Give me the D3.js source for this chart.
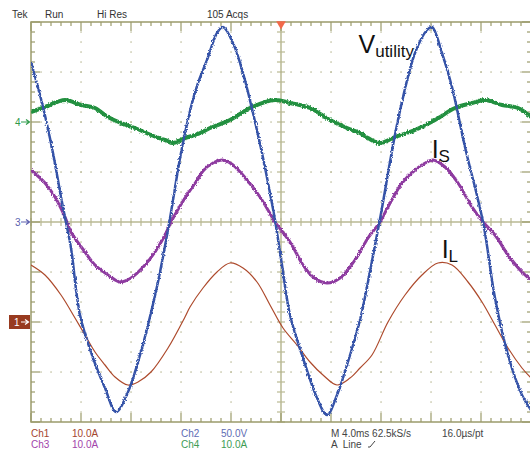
<!DOCTYPE html>
<html>
<head>
<meta charset="utf-8">
<script src="https://cdn.jsdelivr.net/npm/d3@7"></script>
<style>
body { margin: 0; background: #fff; }
svg { display: block; font-family: "Liberation Sans", Arial, sans-serif; }
</style>
</head>
<body>
<svg width="530" height="457"></svg>
<script>
// time axis in ms relative to trigger point (screen centre), 4 ms/div
var ch2Time = [-20, -19.04, -18.24, -17.6, -17.24, -16.8, -16.08, -15.04, -14.08, -13.2, -12.24, -11.44, -10.64, -9.84, -8.96, -8.0, -7.2, -6.64, -5.92, -5.12, -4.64, -3.84, -3.04, -2.24, -1.52, -0.88, -0.48, 0.08, 0.72, 1.76, 2.88, 3.68, 4.48, 5.28, 6.32, 6.96, 7.92, 9.36, 10.72, 11.68, 12.08, 12.88, 13.68, 14.72, 16.16, 17.12, 18.16, 19.28, 20];
var ch2Volts = [160, 115, 69, 25, 2, -26, -93, -136, -166, -190, -170, -140, -103, -60, -2, 69, 115, 139, 162, 189, 195, 179, 149, 109, 69, 29, 2, -43, -93, -136, -176, -193, -173, -143, -98, -60, 3, 102, 169, 192, 195, 169, 135, 75, 0, -76, -133, -173, -188];

var ch4Time = [-20, -18.88, -17.28, -16.0, -14.88, -13.84, -12.8, -11.68, -10.4, -9.28, -8.64, -7.68, -6.64, -5.68, -4.08, -2.48, -0.48, 0.72, 2.32, 3.92, 5.28, 6.32, 6.96, 7.92, 9.12, 10.72, 12.32, 13.92, 15.28, 16.32, 17.68, 18.96, 20];
var ch4Amps = [2.0, 3.0, 4.4, 3.4, 2.8, 1.0, -0.2, -1.2, -2.6, -3.6, -4.2, -3.2, -2.4, -1.2, 0.4, 2.8, 4.4, 3.8, 2.8, 0.4, -1.2, -2.2, -3.2, -4.2, -3.0, -1.6, 0.4, 2.8, 3.8, 4.4, 3.4, 2.8, 1.0];

var ch3Time = [-20, -18.88, -18.08, -17.28, -16.8, -15.68, -14.88, -13.84, -12.88, -12.0, -10.88, -10.08, -9.28, -8.8, -7.68, -6.64, -6.24, -5.44, -4.64, -3.84, -2.72, -1.68, -0.72, -0.48, 0.72, 1.76, 2.56, 3.68, 4.72, 5.92, 6.96, 7.92, 8.56, 9.68, 10.72, 11.68, 12.16, 13.12, 14.16, 15.28, 16.16, 17.12, 18.16, 19.28, 20];
var ch3Amps = [10.4, 7.8, 5.0, 1.0, -2.0, -6.0, -8.6, -10.6, -12.0, -11.2, -8.6, -6.0, -2.6, 0, 4.8, 8.6, 10.2, 11.8, 12.4, 11.4, 8.4, 5.0, 1.0, 0, -4.0, -8.6, -11.0, -12.2, -11.2, -7.6, -3.2, 0, 3.0, 7.8, 10.4, 12.0, 12.4, 11.0, 7.8, 3.0, 0, -2.6, -6.6, -10.0, -11.6];

var ch1Time = [-20, -18.88, -17.6, -16.48, -15.68, -14.88, -14.08, -13.28, -12.24, -11.44, -10.4, -9.04, -7.68, -7.28, -6.24, -5.12, -4.08, -3.04, -1.92, -0.88, 0.16, 1.28, 2.32, 3.36, 4.48, 5.52, 6.32, 7.28, 8.56, 9.92, 11.28, 12.56, 13.68, 14.96, 16.08, 17.12, 18.16, 19.28, 20];
var ch1Amps = [11.4, 9.4, 5.4, 0.8, -2.6, -6.0, -8.6, -11.0, -12.6, -12.0, -10.0, -5.2, 1.0, 3.0, 6.8, 10.0, 11.8, 10.8, 8.0, 3.4, -1.2, -4.6, -8.0, -10.6, -12.6, -11.2, -9.2, -6.6, 0, 5.4, 9.4, 11.8, 11.4, 8.0, 4.0, -0.6, -5.2, -9.2, -11.2];

// channel settings: units per division and ground marker position (divisions)
var chNames = ["Ch1", "Ch2", "Ch3", "Ch4"];
var chScale = [10, 50, 10, 10];
var chOffset = [-2, 0, 0, 2];
var chScaleText = ["10.0A", "50.0V", "10.0A", "10.0A"];
var chColor = ["#ad4a2c", "#3553a8", "#8e3aa0", "#23903f"];
var chTextColor = ["#a4452e", "#5e6cb4", "#a244aa", "#3d9c54"];

var headerText = ["Tek", "Run", "Hi Res", "105 Acqs"];
var footerText = ["M 4.0ms 62.5kS/s", "16.0\u00b5s/pt", "A  Line"];

var traceLabels = [
  {main: "V", sub: "utility", t: 6.2, div: 3.38},
  {main: "I", sub: "S", t: 12.05, div: 1.28},
  {main: "I", sub: "L", t: 12.85, div: -0.72}
];

var svg = d3.select("svg");

var x = d3.scaleLinear().domain([-20, 20]).range([31, 531]);
var y = d3.scaleLinear().domain([-4, 4]).range([422, 22]);

var gridColor = "#9b9b6b";
var dotColor = "#b3b38d";
var g = svg.append("g");

// fuzzy look of the high-res acquisition
var defs = svg.append("defs");
var fz = defs.append("filter").attr("id", "fuzz")
  .attr("x", "-5%").attr("y", "-5%").attr("width", "110%").attr("height", "110%");
fz.append("feTurbulence").attr("type", "fractalNoise").attr("baseFrequency", "1.2 0.6")
  .attr("numOctaves", 1).attr("seed", 3).attr("result", "n");
fz.append("feDisplacementMap").attr("in", "SourceGraphic").attr("in2", "n")
  .attr("scale", 3.5).attr("xChannelSelector", "R").attr("yChannelSelector", "G");

// dotted graticule
var majorT = d3.range(-16, 17, 4).filter(function(d) { return d !== 0; });
var majorD = d3.range(-3, 4, 1).filter(function(d) { return d !== 0; });
var minorT = d3.range(-20, 20.01, 0.8);
var minorD = d3.range(-4, 4.01, 0.2);

majorT.forEach(function(t) {
  g.selectAll(null).data(minorD.slice(1, -1)).enter().append("rect")
    .attr("x", x(t) - 0.6).attr("y", function(d) { return y(d) - 0.6; })
    .attr("width", 1.3).attr("height", 1.3).attr("fill", dotColor);
});
majorD.forEach(function(dv) {
  g.selectAll(null).data(minorT.slice(1, -1)).enter().append("rect")
    .attr("x", function(d) { return x(d) - 0.6; }).attr("y", y(dv) - 0.6)
    .attr("width", 1.3).attr("height", 1.3).attr("fill", dotColor);
});

// centre cross with ticks
g.append("line").attr("x1", x(0)).attr("x2", x(0)).attr("y1", y(4)).attr("y2", y(-4))
  .attr("stroke", "#b9b993").attr("stroke-width", 1.5);
g.append("line").attr("x1", x(-20)).attr("x2", x(20)).attr("y1", y(0)).attr("y2", y(0))
  .attr("stroke", "#b9b993").attr("stroke-width", 1.5);
g.selectAll(null).data(minorD).enter().append("line")
  .attr("x1", x(0) - 4).attr("x2", x(0) + 4)
  .attr("y1", function(d) { return y(d); }).attr("y2", function(d) { return y(d); })
  .attr("stroke", "#b9b993").attr("stroke-width", 1.2);
g.selectAll(null).data(minorT).enter().append("line")
  .attr("y1", y(0) - 4).attr("y2", y(0) + 4)
  .attr("x1", function(d) { return x(d); }).attr("x2", function(d) { return x(d); })
  .attr("stroke", "#b9b993").attr("stroke-width", 1.2);

// border ticks
function isMajorT(d) { return Math.abs(d / 4 - Math.round(d / 4)) < 1e-6; }
function isMajorD(d) { return Math.abs(d - Math.round(d)) < 1e-6; }
g.selectAll(null).data(minorT).enter().append("line")
  .attr("x1", function(d) { return x(d); }).attr("x2", function(d) { return x(d); })
  .attr("y1", y(4)).attr("y2", function(d) { return y(4) + (isMajorT(d) ? 9 : 4); })
  .attr("stroke", gridColor).attr("stroke-width", 1.2);
g.selectAll(null).data(minorT).enter().append("line")
  .attr("x1", function(d) { return x(d); }).attr("x2", function(d) { return x(d); })
  .attr("y1", y(-4)).attr("y2", function(d) { return y(-4) - (isMajorT(d) ? 9 : 4); })
  .attr("stroke", gridColor).attr("stroke-width", 1.2);
g.selectAll(null).data(minorD).enter().append("line")
  .attr("y1", function(d) { return y(d); }).attr("y2", function(d) { return y(d); })
  .attr("x1", x(-20)).attr("x2", function(d) { return x(-20) + (isMajorD(d) ? 9 : 4); })
  .attr("stroke", gridColor).attr("stroke-width", 1.2);
g.selectAll(null).data(minorD).enter().append("line")
  .attr("y1", function(d) { return y(d); }).attr("y2", function(d) { return y(d); })
  .attr("x1", x(20)).attr("x2", function(d) { return x(20) - (isMajorD(d) ? 9 : 4); })
  .attr("stroke", gridColor).attr("stroke-width", 1.2);

g.append("rect").attr("x", x(-20)).attr("y", y(4))
  .attr("width", x(20) - x(-20)).attr("height", y(-4) - y(4))
  .attr("fill", "none").attr("stroke", gridColor).attr("stroke-width", 1.5);

// traces
svg.append("clipPath").attr("id", "plotClip").append("rect")
  .attr("x", x(-20)).attr("y", y(4)).attr("width", x(20) - x(-20)).attr("height", y(-4) - y(4));
var traces = svg.append("g").attr("clip-path", "url(#plotClip)");

function drawTrace(times, vals, ch, width, fuzzy) {
  var pts = times.map(function(t, i) { return [t, vals[i]]; });
  var line = d3.line()
    .x(function(d) { return x(d[0]); })
    .y(function(d) { return y(chOffset[ch] + d[1] / chScale[ch]); })
    .curve(d3.curveCatmullRom.alpha(0.5));
  var p = traces.append("path").attr("d", line(pts)).attr("fill", "none")
    .attr("stroke", chColor[ch]).attr("stroke-width", width).attr("stroke-linejoin", "round");
  if (fuzzy) p.attr("filter", "url(#fuzz)");
}
drawTrace(ch1Time, ch1Amps, 0, 1.2, false);
drawTrace(ch4Time, ch4Amps, 3, 4.0, true);
drawTrace(ch3Time, ch3Amps, 2, 3.0, true);
drawTrace(ch2Time, ch2Volts, 1, 2.5, true);

// trigger position marker
svg.append("path")
  .attr("d", d3.symbol().type(d3.symbolTriangle).size(40)())
  .attr("transform", "translate(" + x(0) + "," + (y(4) + 2) + ") rotate(180)")
  .attr("fill", "#f2694a");

// channel ground markers on the left
var markers = [{ch: 3, label: "4"}, {ch: 1, label: "3"}];
markers.forEach(function(m) {
  var yy = y(chOffset[m.ch]);
  svg.append("text").attr("x", 15).attr("y", yy + 4).attr("font-size", 10)
    .attr("fill", m.ch === 3 ? "#2f9a4a" : "#5b5fae").text(m.label);
  svg.append("path").attr("d", "M21," + yy + "H29M26," + (yy - 2.5) + "L29.5," + yy + "L26," + (yy + 2.5))
    .attr("stroke", m.ch === 3 ? "#2f9a4a" : "#5b5fae").attr("stroke-width", 1.2).attr("fill", "none");
});
var y1m = y(chOffset[0]);
svg.append("rect").attr("x", 9).attr("y", y1m - 7).attr("width", 21).attr("height", 14).attr("fill", "#983a1f");
svg.append("text").attr("x", 14).attr("y", y1m + 4).attr("font-size", 10).attr("fill", "#fff").text("1");
svg.append("path").attr("d", "M21," + y1m + "H28M25," + (y1m - 2.5) + "L28.5," + y1m + "L25," + (y1m + 2.5))
  .attr("stroke", "#fff").attr("stroke-width", 1.2).attr("fill", "none");

// header
var headerX = [12, 45, 97, 207];
svg.selectAll(".hdr").data(headerText).enter().append("text")
  .attr("x", function(d, i) { return headerX[i]; }).attr("y", 18)
  .attr("font-size", 10).attr("fill", "#333").text(function(d) { return d; });

// footer channel settings
var chX = [31, 181, 31, 181];
var chY = [437, 437, 448, 448];
chNames.forEach(function(n, i) {
  svg.append("text").attr("x", chX[i]).attr("y", chY[i]).attr("font-size", 10)
    .attr("fill", chTextColor[i]).text(n);
  svg.append("text").attr("x", chX[i] + (i % 2 ? 40 : 41)).attr("y", chY[i]).attr("font-size", 10)
    .attr("fill", chTextColor[i]).text(chScaleText[i]);
});
svg.append("text").attr("x", 331).attr("y", 437).attr("font-size", 10).attr("fill", "#444").text(footerText[0]);
svg.append("text").attr("x", 442).attr("y", 437).attr("font-size", 10).attr("fill", "#444").text(footerText[1]);
svg.append("text").attr("x", 331).attr("y", 448).attr("font-size", 10).attr("fill", "#444")
  .attr("xml:space", "preserve").text(footerText[2]);
svg.append("path").attr("d", "M368,447H370L375,441").attr("stroke", "#444").attr("stroke-width", 1).attr("fill", "none");

// trace labels
traceLabels.forEach(function(l) {
  var t = svg.append("text").attr("x", x(l.t)).attr("y", y(l.div)).attr("fill", "#111")
    .attr("font-size", 25);
  t.append("tspan").text(l.main);
  t.append("tspan").attr("font-size", 17).attr("dy", 4).text(l.sub);
});
</script>
</body>
</html>
